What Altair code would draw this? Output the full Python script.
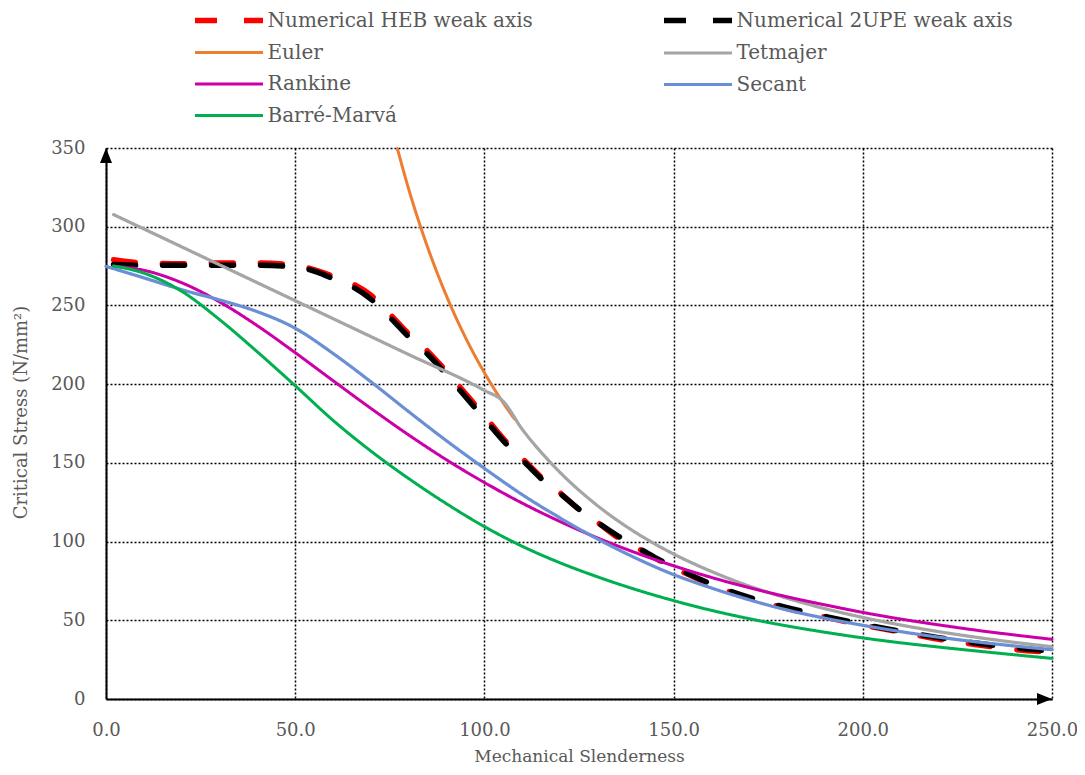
import altair as alt
import pandas as pd

FONT = "DejaVu Serif"
TXT = "#595959"

series = ["Numerical HEB weak axis", "Numerical 2UPE weak axis", "Euler", "Tetmajer",
          "Rankine", "Secant", "Barré-Marvá"]
colors = ["#FF0000", "#000000", "#ED7D31", "#A5A5A5", "#CC00A8", "#6B8FD4", "#00B050"]
dashes = [[22, 27], [22, 27], [1, 0], [1, 0], [1, 0], [1, 0], [1, 0]]
widths = [5.5, 5.5, 3, 3.2, 3, 3.2, 3]

lam_num = [2, 10, 20, 30, 40, 50, 56, 60, 65, 70, 75, 80, 85, 90, 95, 100, 105, 110, 115,
           120, 125, 130, 135, 140, 145, 150, 160, 170, 180, 190, 200, 210, 220, 230, 240, 250]
heb = [279, 277, 276.5, 277, 277, 275.5, 272, 268.5, 264, 256.5, 244.5, 232, 221, 208, 194,
       180, 165.5, 153, 141, 131, 120.5, 112, 103, 96.5, 89.5, 83.5, 72.5, 64, 57.5, 52, 47,
       42.5, 38, 34.5, 31.5, 29.5]
upe = [276, 275.5, 275.5, 275.5, 275.5, 274.5, 271, 267, 262, 254, 242.5, 230, 219, 206, 192,
       178, 164, 152, 140, 130.5, 120.5, 112, 104, 97, 90, 84, 73, 64.5, 58, 52.5, 47.5,
       43, 39, 35.5, 32.5, 30.5]

lam_euler = [77, 80, 85, 90, 95, 100, 105, 108]
euler = [349.6, 323.8, 286.9, 255.9, 229.6, 207.3, 188.0, 177.7]

lam_tet = [2, 20, 40, 60, 80, 100, 105, 110, 115, 120, 130, 140, 150, 160, 170, 180, 190,
           200, 210, 220, 230, 240, 250]
tet = [307.7, 287.2, 264.4, 241.6, 218.8, 196.0, 189.0, 171.3, 156.7, 143.9, 122.6, 105.7,
       92.1, 81.0, 71.7, 64.0, 57.4, 51.8, 47.0, 42.8, 39.2, 36.0, 33.2]

lam_rank = [2, 10, 20, 30, 40, 50, 60, 70, 80, 90, 100, 110, 120, 130, 140, 150, 160, 170,
            180, 190, 200, 210, 220, 230, 240, 250]
rank = [274.9, 272.3, 264.4, 252.3, 237.1, 220.0, 202.2, 184.6, 167.7, 151.9, 137.5, 124.4,
        112.7, 102.2, 92.9, 84.6, 77.2, 70.7, 64.9, 59.8, 55.0, 50.8, 47.1, 43.7, 40.7, 37.9]

lam_sec = [0, 10, 20, 30, 40, 50, 60, 70, 80, 90, 100, 110, 120, 130, 140, 150, 160, 170,
           180, 190, 200, 210, 220, 230, 240, 250]
sec = [274.8, 267.5, 260, 253.5, 246, 235.5, 219.5, 201.5, 182.5, 164, 146.5, 129.8, 115, 101.5,
       89.5, 79, 70.5, 63, 56.5, 51.3, 46.8, 42.8, 39.3, 36.3, 33.7, 31.3]

lam_bm = [2, 10, 20, 30, 40, 50, 60, 70, 80, 90, 100, 110, 120, 130, 140, 150, 160, 170,
          180, 190, 200, 210, 220, 230, 240, 250]
bm = [275, 270.5, 259, 241, 220.5, 199, 177, 157.5, 140, 124, 109.5, 97, 86.5, 77.5, 69.5,
      62.5, 56.3, 51, 46.4, 42.4, 38.8, 35.7, 33, 30.5, 28.1, 25.8]

x_ticks = [0, 50, 100, 150, 200, 250]
y_ticks = [0, 50, 100, 150, 200, 250, 300, 350]

pairs = [(lam_num, heb), (lam_num, upe), (lam_euler, euler), (lam_tet, tet),
         (lam_rank, rank), (lam_sec, sec), (lam_bm, bm)]
frames = []
for name, (xs, ys) in zip(series, pairs):
    frames.append(pd.DataFrame({"lam": xs, "sigma": ys, "series": name}))
df = pd.concat(frames, ignore_index=True)

legend = alt.Legend(
    title=None, orient="none", legendX=86, legendY=-140.5, columns=2, direction="horizontal",
    columnPadding=120, rowPadding=9.5, padding=0,
    symbolType="M-1,0H5.8", symbolSize=400, labelOffset=49.5,
    labelFont=FONT, labelFontSize=20, labelColor=TXT, labelLimit=500,
)

xscale = alt.Scale(domain=[0, 250], nice=False, zero=False)
yscale = alt.Scale(domain=[0, 350], nice=False)

layers = []
for i, name in enumerate(series):
    layers.append(
        alt.Chart(df).transform_filter(alt.datum.series == name)
        .mark_line(interpolate="monotone", strokeCap="round", strokeJoin="round")
        .encode(
            x=alt.X("lam:Q", scale=xscale, axis=alt.Axis(
                values=x_ticks, format=".1f", title="Mechanical Slenderness")),
            y=alt.Y("sigma:Q", scale=yscale, axis=alt.Axis(
                values=y_ticks, format="d", title="Critical Stress (N/mm²)",
                titleY=264, titleFontSize=18)),
            color=alt.Color("series:N", scale=alt.Scale(domain=series, range=colors),
                            legend=legend),
            strokeDash=alt.StrokeDash("series:N", scale=alt.Scale(domain=series, range=dashes),
                                      legend=legend),
            strokeWidth=alt.StrokeWidth("series:N", scale=alt.Scale(
                type="ordinal", domain=series, range=widths), legend=legend),
        )
    )

arrow_up = alt.Chart(pd.DataFrame({"lam": [0], "sigma": [350]})).mark_point(
    filled=True, color="black", opacity=1, size=100, shape="M0,0L-1.2,3L1.2,3Z"
).encode(x=alt.X("lam:Q", scale=xscale), y=alt.Y("sigma:Q", scale=yscale))
arrow_right = alt.Chart(pd.DataFrame({"lam": [250], "sigma": [0]})).mark_point(
    filled=True, color="black", opacity=1, size=100, shape="M0,0L-3,-1.2L-3,1.2Z"
).encode(x=alt.X("lam:Q", scale=xscale), y=alt.Y("sigma:Q", scale=yscale))

chart = alt.layer(*layers, arrow_up, arrow_right).properties(
    width=946, height=551,
    autosize=alt.AutoSizeParams(type="none"),
    padding={"left": 98, "top": 140, "right": 25, "bottom": 68},
).configure_view(stroke=None).configure_axis(
    grid=True, gridColor="black", gridDash=[2, 2], gridWidth=1.5, gridOpacity=1,
    domainColor="black", domainWidth=2, ticks=False, tickSize=0,
    labelFont=FONT, labelFontSize=18, labelColor=TXT,
    titleFont=FONT, titleFontSize=17, titleColor=TXT, titleFontWeight="normal",
).configure_axisX(labelPadding=22, titlePadding=9, labelFlush=False).configure_axisY(
    labelPadding=21, titlePadding=20
)

chart.save("out.html", embed_options={"renderer": "svg", "actions": False})
